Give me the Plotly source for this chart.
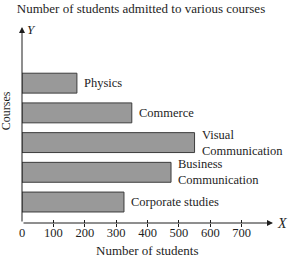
import plotly.graph_objects as go

courses = ["Corporate studies", "Business<br>Communication", "Visual<br>Communication", "Commerce", "Physics"]
students = [325, 475, 550, 350, 175]
tick_vals = [0, 100, 200, 300, 400, 500, 600, 700]
tick_text = [str(v) for v in tick_vals]
mark_vals = [100, 200, 300, 400, 500, 600, 700]

SERIF = "Liberation Serif, Times New Roman, serif"
INK = "#1e1e1e"

fig = go.Figure()
fig.add_trace(go.Bar(
    x=students, y=courses, orientation="h", width=0.67,
    marker=dict(color="#999999", line=dict(color="#3c3c3c", width=1)),
    hoverinfo="skip",
))
# invisible trace to anchor the overlay axis for crossing tick marks
fig.add_trace(go.Scatter(x=[0], y=[courses[0]], xaxis="x2", mode="markers",
                         marker=dict(opacity=0), showlegend=False, hoverinfo="skip"))

annotations = []
for c, v in zip(courses, students):
    annotations.append(dict(x=v, y=c, xref="x", yref="y", text=c, showarrow=False,
                            xanchor="left", yanchor="middle", align="left", xshift=5,
                            font=dict(family=SERIF, size=12.5, color=INK)))
# axes with arrows
annotations.append(dict(x=1, y=0, xref="x domain", yref="y domain", ax=0, ay=0,
                        axref="x domain", ayref="y domain", text="", showarrow=True,
                        arrowhead=2, arrowsize=1.2, arrowwidth=1, arrowcolor=INK))
annotations.append(dict(x=0, y=1, xref="x domain", yref="y domain", ax=0, ay=0,
                        axref="x domain", ayref="y domain", text="", showarrow=True,
                        arrowhead=2, arrowsize=1.2, arrowwidth=1, arrowcolor=INK))
annotations.append(dict(x=1, y=0, xref="x domain", yref="y domain", text="<i>X</i>",
                        showarrow=False, xanchor="left", yanchor="middle", xshift=2,
                        font=dict(family=SERIF, size=14, color=INK)))
annotations.append(dict(x=0, y=1, xref="x domain", yref="y domain", text="<i>Y</i>",
                        showarrow=False, xanchor="left", yanchor="middle", xshift=3, yshift=-2,
                        font=dict(family=SERIF, size=13, color=INK)))
annotations.append(dict(x=0.5, y=0, xref="x domain", yref="y domain", text="Number of students",
                        showarrow=False, xanchor="center", yanchor="top", yshift=-18,
                        font=dict(family=SERIF, size=13, color=INK)))
annotations.append(dict(x=0, y=0.57, xref="paper", yref="y domain", text="Courses",
                        showarrow=False, xanchor="center", yanchor="middle", xshift=-16,
                        textangle=-90, font=dict(family=SERIF, size=12, color=INK)))

fig.update_layout(
    width=300, height=258,
    margin=dict(l=22, r=27, t=27, b=35),
    paper_bgcolor="white", plot_bgcolor="white",
    showlegend=False,
    title=dict(text="Number of students admitted to various courses",
               xref="container", x=0.47, xanchor="center",
               yref="container", y=1 - 8 / 258, yanchor="middle",
               font=dict(family=SERIF, size=13, color=INK)),
    xaxis=dict(range=[0, 800], tickvals=tick_vals, ticktext=tick_text, ticks="",
               showgrid=False, zeroline=False, showline=False,
               tickfont=dict(family=SERIF, size=12.5, color=INK),
               minor=dict(tickvals=mark_vals, ticks="outside", ticklen=3, tickcolor=INK, tickwidth=1)),
    xaxis2=dict(range=[0, 800], overlaying="x", anchor="y", side="bottom",
                tickvals=mark_vals, ticks="inside", ticklen=3, tickcolor=INK, tickwidth=1,
                showticklabels=False, showgrid=False, zeroline=False, showline=False),
    yaxis=dict(type="category", categoryorder="array", categoryarray=courses,
               range=[-0.706, 5.89], showticklabels=False, ticks="",
               showgrid=False, zeroline=False, showline=False),
    annotations=annotations,
)
fig.write_html("out.html")
